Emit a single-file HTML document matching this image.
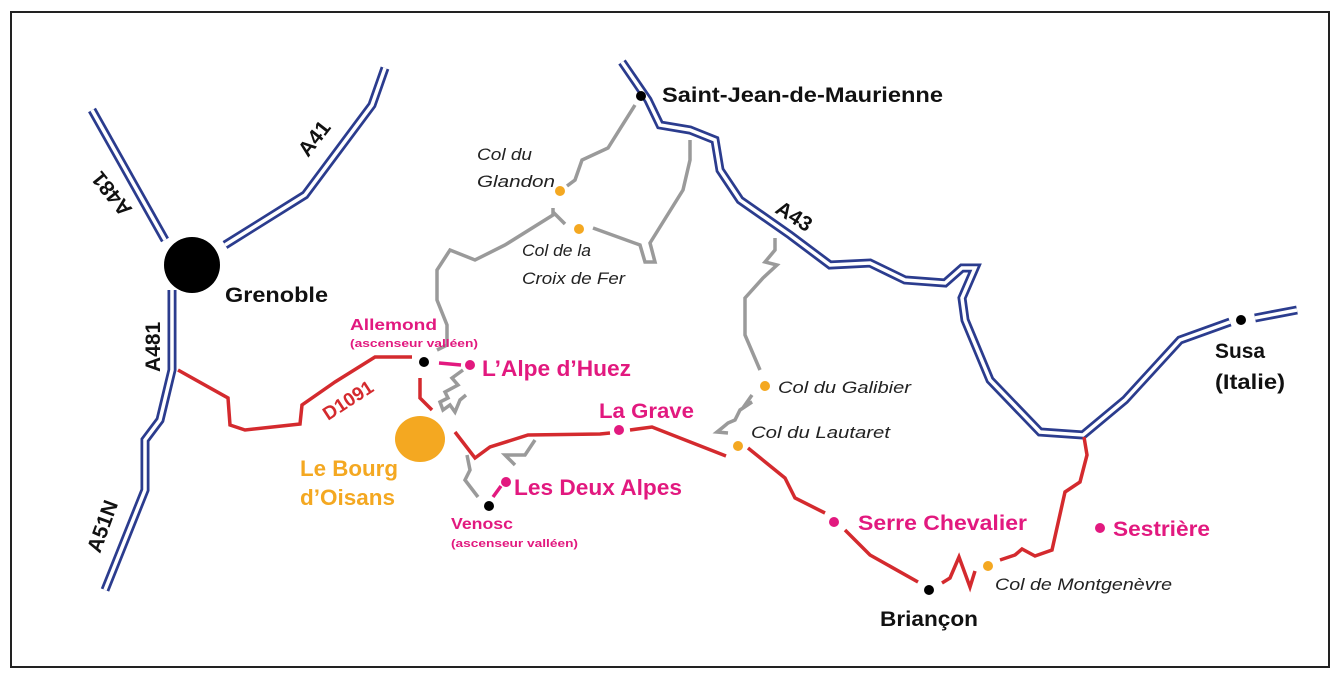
<!DOCTYPE html>
<html><head><meta charset="utf-8"><style>
html,body{margin:0;padding:0;background:#fff;}
svg{display:block;}
text{font-family:"Liberation Sans",sans-serif;}
.b{font-weight:bold;fill:#111;font-size:21px;}
.p{font-weight:bold;fill:#e2197f;}
.i{font-style:italic;fill:#222;font-size:17px;}
</style></head><body>
<svg width="1342" height="687" viewBox="0 0 1342 687" xmlns="http://www.w3.org/2000/svg">
<rect x="11" y="12" width="1318" height="655" fill="#fff" stroke="#222" stroke-width="2"/>
<g fill="none" stroke="#2b3c8e" stroke-width="9">
<polyline points="92,110 165,240"/>
<polyline points="385,68 372,105 305,195 225,245"/>
<polyline points="172,290 172,370 160,420 145,440 145,490 105,590"/>
<polyline points="622,62 648,100 660,125 690,130 715,140 720,170 740,200 790,235 830,265 870,263 905,280 945,283 962,268 975,268 962,298 965,320 990,380 1040,432 1083,435 1125,400 1180,340 1230,322"/>
<polyline points="1255,318 1297,310"/>
</g>
<g fill="none" stroke="#fff" stroke-width="3.5">
<polyline points="92,110 165,240"/>
<polyline points="385,68 372,105 305,195 225,245"/>
<polyline points="172,290 172,370 160,420 145,440 145,490 105,590"/>
<polyline points="622,62 648,100 660,125 690,130 715,140 720,170 740,200 790,235 830,265 870,263 905,280 945,283 962,268 975,268 962,298 965,320 990,380 1040,432 1083,435 1125,400 1180,340 1230,322"/>
<polyline points="1255,318 1297,310"/>
</g>
<g fill="none" stroke="#9a9a9a" stroke-width="3.5">
<polyline points="635,105 608,148 582,160 575,180 567,186"/>
<polyline points="553,208 553,215 505,245 475,260 450,250 437,270 437,300 447,325 447,345 437,350"/>
<polyline points="553,212 565,224"/>
<polyline points="593,228 640,245 645,262 655,262 650,243 683,190 690,160 690,140"/>
<polyline points="775,238 775,250 765,262 777,265 763,278 745,298 745,335 760,370"/>
<polyline points="752,395 745,405 752,402 740,410 735,420 728,423 722,428 717,432 728,433"/>
<polyline points="463,370 452,378 458,385 445,392 448,398 440,402 443,410 450,405 455,412 460,400 466,395"/>
<polyline points="467,455 470,470 465,480 478,497"/>
<polyline points="535,440 525,455 505,455 515,465"/>
</g>
<g fill="none" stroke="#d42a2e" stroke-width="3.5">
<polyline points="178,370 228,398 230,425 245,430 300,424 302,405 335,382 375,357 412,357"/>
<polyline points="420,378 420,398 432,410"/>
<polyline points="455,432 475,458 490,447 528,435 600,434 610,433"/>
<polyline points="630,430 652,427 726,456"/>
<polyline points="748,448 785,478 795,498 825,513"/>
<polyline points="845,530 870,555 918,582"/>
<polyline points="942,583 950,578 959,557 970,587 975,571"/>
<polyline points="1000,560 1015,555 1022,549 1035,556 1052,550 1065,492 1080,482 1087,455 1084,437"/>
</g>
<g stroke="#e2197f" stroke-width="3.5">
<line x1="439" y1="363" x2="461" y2="365"/>
<line x1="493" y1="497" x2="501" y2="486"/>
</g>
<circle cx="192" cy="265" r="28" fill="#000"/>
<ellipse cx="420" cy="439" rx="25" ry="23" fill="#f4a821"/>
<g fill="#000">
<circle cx="641" cy="96" r="5"/><circle cx="424" cy="362" r="5"/><circle cx="489" cy="506" r="5"/>
<circle cx="929" cy="590" r="5"/><circle cx="1241" cy="320" r="5"/>
</g>
<g fill="#f4a821">
<circle cx="560" cy="191" r="5"/><circle cx="579" cy="229" r="5"/><circle cx="765" cy="386" r="5"/>
<circle cx="738" cy="446" r="5"/><circle cx="988" cy="566" r="5"/>
</g>
<g fill="#e2197f">
<circle cx="470" cy="365" r="5"/><circle cx="506" cy="482" r="5"/><circle cx="619" cy="430" r="5"/>
<circle cx="834" cy="522" r="5"/><circle cx="1100" cy="528" r="5"/>
</g>
<text class="b" x="662" y="102" textLength="281" lengthAdjust="spacingAndGlyphs">Saint-Jean-de-Maurienne</text>
<text class="b" x="225" y="302" textLength="103" lengthAdjust="spacingAndGlyphs">Grenoble</text>
<text class="b" x="880" y="626" textLength="98" lengthAdjust="spacingAndGlyphs">Briançon</text>
<text class="b" x="1215" y="358" textLength="50" lengthAdjust="spacingAndGlyphs">Susa</text>
<text class="b" x="1215" y="389" textLength="70" lengthAdjust="spacingAndGlyphs">(Italie)</text>
<text class="b" transform="translate(133,209) rotate(-129)" font-size="19">A481</text>
<text class="b" transform="translate(160,372) rotate(-90)" font-size="19">A481</text>
<text class="b" transform="translate(100,554) rotate(-70)" font-size="19">A51N</text>
<text class="b" transform="translate(308,158) rotate(-52)" font-size="19">A41</text>
<text class="b" transform="translate(774,212) rotate(32)" font-size="19">A43</text>
<text font-weight="bold" fill="#d42a2e" font-size="19" transform="translate(328,421) rotate(-33)">D1091</text>
<text class="p" x="350" y="330" font-size="16" textLength="87" lengthAdjust="spacingAndGlyphs">Allemond</text>
<text class="p" x="350" y="347" font-size="11" textLength="128" lengthAdjust="spacingAndGlyphs">(ascenseur valléen)</text>
<text class="p" x="482" y="376" font-size="22" textLength="149" lengthAdjust="spacingAndGlyphs">L’Alpe d’Huez</text>
<text class="p" x="599" y="418" font-size="21" textLength="95" lengthAdjust="spacingAndGlyphs">La Grave</text>
<text class="p" x="514" y="495" font-size="22" textLength="168" lengthAdjust="spacingAndGlyphs">Les Deux Alpes</text>
<text class="p" x="451" y="529" font-size="16" textLength="62" lengthAdjust="spacingAndGlyphs">Venosc</text>
<text class="p" x="451" y="547" font-size="11" textLength="127" lengthAdjust="spacingAndGlyphs">(ascenseur valléen)</text>
<text class="p" x="858" y="530" font-size="21" textLength="169" lengthAdjust="spacingAndGlyphs">Serre Chevalier</text>
<text class="p" x="1113" y="536" font-size="21" textLength="97" lengthAdjust="spacingAndGlyphs">Sestrière</text>
<text font-weight="bold" fill="#f4a821" font-size="22" x="300" y="476" textLength="98" lengthAdjust="spacingAndGlyphs">Le Bourg</text>
<text font-weight="bold" fill="#f4a821" font-size="22" x="300" y="505" textLength="95" lengthAdjust="spacingAndGlyphs">d’Oisans</text>
<text class="i" x="477" y="160" textLength="55" lengthAdjust="spacingAndGlyphs">Col du</text>
<text class="i" x="477" y="187" textLength="78" lengthAdjust="spacingAndGlyphs">Glandon</text>
<text class="i" x="522" y="256" textLength="69" lengthAdjust="spacingAndGlyphs">Col de la</text>
<text class="i" x="522" y="284" textLength="103" lengthAdjust="spacingAndGlyphs">Croix de Fer</text>
<text class="i" x="778" y="393" textLength="133" lengthAdjust="spacingAndGlyphs">Col du Galibier</text>
<text class="i" x="751" y="438" textLength="139" lengthAdjust="spacingAndGlyphs">Col du Lautaret</text>
<text class="i" x="995" y="590" textLength="177" lengthAdjust="spacingAndGlyphs">Col de Montgenèvre</text>
</svg>
</body></html>
